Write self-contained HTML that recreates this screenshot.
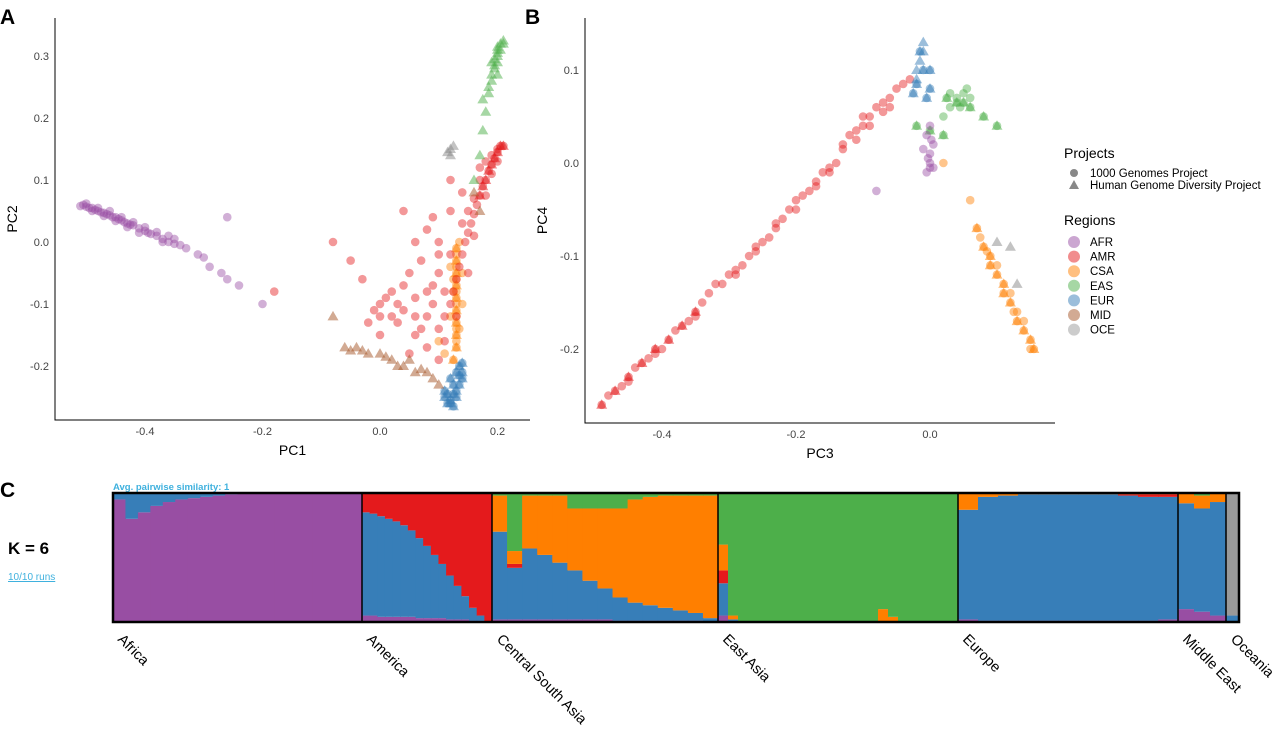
<!DOCTYPE html>
<html><head><meta charset="utf-8">
<style>
body{margin:0;background:#fff;font-family:"Liberation Sans",sans-serif;}
svg text{font-family:"Liberation Sans",sans-serif;}
</style></head>
<body>
<svg id="fig" width="1280" height="732" xmlns="http://www.w3.org/2000/svg">
<text x="0" y="24" font-size="21" font-weight="bold">A</text>
<text x="525" y="24" font-size="21" font-weight="bold">B</text>
<text x="0" y="497" font-size="21" font-weight="bold">C</text>
<g id="pa"></g>
<g id="pb"></g>
<g id="legend">
<text x="1064" y="158" font-size="14">Projects</text>
<circle cx="1074" cy="173" r="4" fill="#888"/>
<text x="1090" y="177" font-size="11.5">1000 Genomes Project</text>
<polygon points="1074,180 1079,189 1069,189" fill="#888"/>
<text x="1090" y="189" font-size="11.5">Human Genome Diversity Project</text>
<text x="1064" y="225" font-size="14">Regions</text>
</g>
<g id="pc">
<text x="113" y="490" font-size="9.5" font-weight="bold" fill="#3fb1de">Avg. pairwise similarity: 1</text>
<text x="8" y="554" font-size="17" font-weight="bold">K = 6</text>
<text x="8" y="580" font-size="10" fill="#3fb1de" text-decoration="underline">10/10 runs</text>
</g>
</svg>
<script>
const C={AFR:"#984ea3",AMR:"#e41a1c",CSA:"#ff7f00",EAS:"#4daf4a",EUR:"#377eb8",MID:"#a65628",OCE:"#999999"};
const regionNames=["AFR","AMR","CSA","EAS","EUR","MID","OCE"];
// Panel A data [PC1, PC2]
const aAFR=[[-0.51,0.058],[-0.505,0.06],[-0.50,0.057],[-0.495,0.055],[-0.49,0.055],[-0.485,0.052],[-0.48,0.05],[-0.475,0.048],[-0.47,0.047],[-0.465,0.045],[-0.46,0.043],[-0.455,0.04],[-0.45,0.04],[-0.445,0.037],[-0.44,0.035],[-0.435,0.032],[-0.43,0.03],[-0.425,0.028],[-0.42,0.027],[-0.41,0.022],[-0.40,0.018],[-0.395,0.015],[-0.39,0.013],[-0.38,0.01],[-0.37,0.005],[-0.36,0.0],[-0.35,-0.003],[-0.34,-0.005],[-0.33,-0.01],[-0.31,-0.02],[-0.30,-0.025],[-0.29,-0.04],[-0.27,-0.05],[-0.26,-0.06],[-0.24,-0.07],[-0.2,-0.1],[-0.26,0.04],[-0.36,0.01],[-0.41,0.015],[-0.50,0.062],[-0.49,0.05],[-0.48,0.055],[-0.47,0.042],[-0.46,0.05],[-0.45,0.034],[-0.44,0.04],[-0.43,0.024],[-0.42,0.032],[-0.4,0.024],[-0.38,0.016],[-0.37,0.0],[-0.35,0.005]];
const aAMR=[[0.12,-0.1],[0.125,-0.08],[0.13,-0.06],[0.135,-0.04],[0.14,-0.02],[0.145,0.0],[0.15,0.015],[0.155,0.03],[0.16,0.045],[0.165,0.06],[0.17,0.075],[0.175,0.09],[0.18,0.1],[0.185,0.115],[0.19,0.125],[0.195,0.135],[0.2,0.145],[0.205,0.155],[0.21,0.155],[0.15,0.05],[0.16,0.01],[0.17,0.1],[0.18,0.075],[0.19,0.11],[0.2,0.13],[0.05,-0.05],[0.03,-0.1],[0.0,-0.12],[-0.02,-0.13],[0.06,-0.15],[0.08,-0.17],[0.1,-0.19],[0.02,-0.08],[-0.05,-0.03],[-0.08,0.0],[0.04,0.05],[0.09,0.04],[0.1,-0.02],[0.07,-0.03],[0.11,-0.08],[0.06,-0.09],[0.08,-0.12],[0.1,-0.14],[-0.03,-0.06],[0.0,-0.15],[0.12,0.05],[0.14,0.08],[0.06,0.0],[-0.18,-0.08],[0.09,-0.07],[0.03,-0.13],[0.11,-0.16],[0.13,-0.12],[0.15,-0.05],[0.05,-0.18],[0.01,-0.09],[0.08,0.02],[0.04,-0.11],[0.07,-0.14],[0.09,-0.1],[0.11,-0.12],[0.02,-0.12],[0.06,-0.12],[0.08,-0.08],[0.1,-0.05],[0.12,-0.02],[0.14,0.03],[0.16,0.07],[0.17,0.12],[0.18,0.13],[0.19,0.14],[0.2,0.15],[0.04,-0.07],[0.1,0.0],[0.12,0.1],[0.0,-0.1],[-0.01,-0.11]];
const aCSA=[[0.125,-0.19],[0.13,-0.17],[0.13,-0.15],[0.13,-0.13],[0.13,-0.11],[0.13,-0.09],[0.13,-0.07],[0.13,-0.05],[0.13,-0.03],[0.13,-0.01],[0.135,0.0],[0.125,-0.08],[0.12,-0.12],[0.135,-0.14],[0.1,-0.16],[0.11,-0.18],[0.12,-0.04],[0.13,-0.16],[0.13,-0.14],[0.13,-0.12],[0.13,-0.1],[0.13,-0.08],[0.13,-0.06],[0.13,-0.04],[0.13,-0.02],[0.14,-0.05],[0.14,-0.1],[0.125,-0.06]];
const aEAS=[[0.16,0.1],[0.17,0.14],[0.175,0.18],[0.18,0.21],[0.185,0.24],[0.19,0.26],[0.19,0.27],[0.195,0.28],[0.2,0.29],[0.2,0.3],[0.2,0.31],[0.205,0.32],[0.21,0.325],[0.195,0.295],[0.2,0.27],[0.185,0.25],[0.175,0.23],[0.2,0.305],[0.205,0.31],[0.21,0.32],[0.195,0.285],[0.19,0.29],[0.2,0.315]];
const aEUR=[[0.11,-0.25],[0.115,-0.26],[0.12,-0.255],[0.125,-0.245],[0.13,-0.24],[0.135,-0.23],[0.13,-0.21],[0.135,-0.2],[0.14,-0.21],[0.12,-0.22],[0.11,-0.24],[0.125,-0.265],[0.14,-0.195],[0.12,-0.26],[0.13,-0.25],[0.14,-0.22],[0.125,-0.23],[0.115,-0.245],[0.135,-0.215]];
const aMID=[[-0.08,-0.12],[-0.06,-0.17],[-0.04,-0.17],[-0.02,-0.18],[0.0,-0.18],[0.02,-0.19],[0.04,-0.2],[0.05,-0.19],[0.06,-0.21],[0.08,-0.21],[0.09,-0.22],[0.1,-0.23],[-0.05,-0.175],[0.03,-0.2],[0.16,0.08],[0.17,0.05],[-0.03,-0.175],[0.01,-0.185],[0.07,-0.205]];
const aOCE=[[0.115,0.145],[0.12,0.15],[0.125,0.155],[0.12,0.14]];
// Panel B data [PC3, PC4]
const bAMR=[[-0.49,-0.26],[-0.47,-0.245],[-0.45,-0.23],[-0.43,-0.215],[-0.41,-0.2],[-0.39,-0.19],[-0.37,-0.175],[-0.35,-0.16],[-0.33,-0.14],[-0.31,-0.13],[-0.29,-0.115],[-0.27,-0.1],[-0.25,-0.085],[-0.23,-0.07],[-0.21,-0.05],[-0.19,-0.035],[-0.17,-0.02],[-0.15,-0.005],[-0.13,0.015],[-0.11,0.035],[-0.09,0.05],[-0.08,0.06],[-0.07,0.065],[-0.06,0.07],[-0.05,0.08],[-0.04,0.085],[-0.03,0.09],[-0.4,-0.2],[-0.36,-0.17],[-0.3,-0.12],[-0.24,-0.08],[-0.18,-0.03],[-0.14,0.0],[-0.1,0.04],[-0.12,0.03],[-0.2,-0.04],[-0.26,-0.09],[-0.34,-0.15],[-0.44,-0.22],[-0.48,-0.25],[-0.42,-0.21],[-0.32,-0.13],[-0.28,-0.11],[-0.22,-0.06],[-0.16,-0.01],[-0.46,-0.24],[-0.38,-0.18],[-0.26,-0.095],[-0.2,-0.05],[-0.15,-0.01],[-0.11,0.025],[-0.09,0.04],[-0.07,0.055],[-0.06,0.06],[-0.1,0.05],[-0.13,0.02],[-0.17,-0.025],[-0.23,-0.065],[-0.29,-0.12],[-0.35,-0.165],[-0.41,-0.205],[-0.45,-0.235]];
const bAFR=[[0.0,0.0],[-0.005,-0.01],[0.0,0.01],[0.005,0.02],[-0.005,0.03],[0.0,0.04],[-0.01,0.015],[0.005,-0.005],[-0.08,-0.03],[0.0,-0.005],[0.002,0.025],[-0.003,0.005]];
const bCSA=[[0.07,-0.07],[0.08,-0.09],[0.09,-0.1],[0.1,-0.12],[0.11,-0.14],[0.12,-0.15],[0.13,-0.17],[0.14,-0.18],[0.15,-0.19],[0.155,-0.2],[0.09,-0.11],[0.11,-0.13],[0.125,-0.16],[0.02,0.0],[0.06,-0.04],[0.075,-0.08],[0.1,-0.11],[0.12,-0.14],[0.14,-0.17],[0.15,-0.2],[0.13,-0.16],[0.085,-0.095]];
const bEAS=[[0.02,0.05],[0.03,0.06],[0.04,0.07],[0.05,0.075],[0.06,0.07],[0.045,0.06],[0.03,0.075],[0.055,0.08],[0.0,0.035],[-0.02,0.04],[0.1,0.04],[0.08,0.05],[0.02,0.03],[0.04,0.065],[0.05,0.065],[0.025,0.07],[0.06,0.06]];
const bEUR=[[-0.02,0.1],[-0.015,0.11],[-0.01,0.12],[-0.01,0.13],[-0.02,0.09],[0.0,0.08],[-0.025,0.075],[0.0,0.1],[-0.005,0.07],[-0.015,0.12],[-0.01,0.1],[-0.02,0.085]];
const bOCE=[[0.1,-0.085],[0.12,-0.09],[0.13,-0.13]];

const svg=document.getElementById('fig');const NS="http://www.w3.org/2000/svg";
function mk(p,t,a){const e=document.createElementNS(NS,t);for(const k in a)e.setAttribute(k,a[k]);p.appendChild(e);return e;}
function panel(g,x0,x1,y0,y1,sx,sy,xt,yt,xl,yl,xtitle,ytitle){
 const ax=mk(g,'path',{d:`M${x0} ${y0}V${y1}H${x1}`,stroke:'#000','stroke-width':1,fill:'none'});
 
 
 xt.forEach((v,i)=>{const t=mk(g,'text',{x:sx(v),y:y1+15,'font-size':11,fill:'#444','text-anchor':'middle'});t.textContent=xl[i];
  
  });
 yt.forEach((v,i)=>{const t=mk(g,'text',{x:x0-6,y:sy(v)+4,'font-size':11,fill:'#444','text-anchor':'end'});t.textContent=yl[i];
  
  });
 const xtt=mk(g,'text',{x:(x0+x1)/2,y:y1+35,'font-size':14,'text-anchor':'middle'});xtt.textContent=xtitle;
 
 
 const ytt=mk(g,'text',{x:0,y:0,'font-size':14,'text-anchor':'middle',transform:`translate(${x0-38},${(y0+y1)/2}) rotate(-90)`});ytt.textContent=ytitle;
 
 
}
function pts(g,arr,col,tri,sx,sy){arr.forEach(p=>{const x=sx(p[0]),y=sy(p[1]);let e;
 if(tri)e=mk(g,'polygon',{points:`${x},${y-5.5} ${x+5.5},${y+4} ${x-5.5},${y+4}`,fill:col,'fill-opacity':0.5});
 else e=mk(g,'circle',{cx:x,cy:y,r:4.3,fill:col,'fill-opacity':0.45});
 
 });}
const sAx=v=>380+v*587.5, sAy=v=>242-v*620;
const pa=document.getElementById('pa');
panel(pa,55,530,18,420,sAx,sAy,[-0.4,-0.2,0,0.2],[0.3,0.2,0.1,0,-0.1,-0.2],["-0.4","-0.2","0.0","0.2"],["0.3","0.2","0.1","0.0","-0.1","-0.2"],"PC1","PC2");
pts(pa,aAFR,C.AFR,false,sAx,sAy);pts(pa,aCSA,C.CSA,false,sAx,sAy);pts(pa,aCSA.slice(0,10),C.CSA,true,sAx,sAy);
pts(pa,aAMR,C.AMR,false,sAx,sAy);pts(pa,aAMR.slice(10,19),C.AMR,true,sAx,sAy);
pts(pa,aEAS,C.EAS,true,sAx,sAy);pts(pa,aEUR,C.EUR,false,sAx,sAy);pts(pa,aEUR,C.EUR,true,sAx,sAy);
pts(pa,aMID,C.MID,true,sAx,sAy);pts(pa,aOCE,"#888",true,sAx,sAy);
const sBx=v=>930+v*670, sBy=v=>163-v*930;
const pb=document.getElementById('pb');
panel(pb,585,1055,18,423,sBx,sBy,[-0.4,-0.2,0],[0.1,0,-0.1,-0.2],["-0.4","-0.2","0.0"],["0.1","0.0","-0.1","-0.2"],"PC3","PC4");
pts(pb,bAMR,C.AMR,false,sBx,sBy);pts(pb,bAMR.slice(0,8),C.AMR,true,sBx,sBy);
pts(pb,bCSA,C.CSA,false,sBx,sBy);pts(pb,bCSA.slice(0,12),C.CSA,true,sBx,sBy);
pts(pb,bEAS,C.EAS,false,sBx,sBy);pts(pb,bEAS.slice(8),C.EAS,true,sBx,sBy);
pts(pb,bEUR,C.EUR,true,sBx,sBy);pts(pb,bEUR.slice(5),C.EUR,false,sBx,sBy);
pts(pb,bAFR,C.AFR,false,sBx,sBy);pts(pb,bOCE,"#888",true,sBx,sBy);
// legend regions
const lg=document.getElementById('legend');
regionNames.forEach((r,i)=>{const y=242+i*14.6;
 const c=mk(lg,'circle',{cx:1074,cy:y,r:6,fill:C[r],'fill-opacity':0.5});
 
 
 const t=mk(lg,'text',{x:1090,y:y+4,'font-size':11.5});t.textContent=r;
 
 });
// Panel C admixture
const popNames=["Africa","America","Central South Asia","East Asia","Europe","Middle East","Oceania"];
const popWidths=[249,130,226,240,220,48,13];
const compColors=[C.AFR,C.EUR,C.AMR,C.CSA,C.EAS,"#999999"];
// columns per population: fractions [purple, blue, red, orange, green, gray] bottom-up
const popCols=[
 [[0.95,0.05,0,0,0,0],[0.8,0.2,0,0,0,0],[0.85,0.15,0,0,0,0],[0.9,0.1,0,0,0,0],[0.93,0.07,0,0,0,0],[0.95,0.05,0,0,0,0],[0.96,0.04,0,0,0,0],[0.97,0.03,0,0,0,0],[0.98,0.02,0,0,0,0],[0.99,0.01,0,0,0,0],[1,0,0,0,0,0],[1,0,0,0,0,0],[1,0,0,0,0,0],[1,0,0,0,0,0],[1,0,0,0,0,0],[1,0,0,0,0,0],[1,0,0,0,0,0],[1,0,0,0,0,0],[1,0,0,0,0,0],[1,0,0,0,0,0]],
 [[0.05,0.8,0.15,0,0,0],[0.05,0.79,0.16,0,0,0],[0.04,0.78,0.18,0,0,0],[0.04,0.76,0.2,0,0,0],[0.04,0.74,0.22,0,0,0],[0.04,0.71,0.25,0,0,0],[0.04,0.67,0.29,0,0,0],[0.03,0.62,0.35,0,0,0],[0.03,0.56,0.41,0,0,0],[0.03,0.49,0.48,0,0,0],[0.03,0.42,0.55,0,0,0],[0.02,0.34,0.64,0,0,0],[0.02,0.26,0.72,0,0,0],[0.02,0.18,0.8,0,0,0],[0.01,0.1,0.89,0,0,0],[0.01,0.04,0.95,0,0,0],[0,0,1,0,0,0]],
 [[0.02,0.68,0,0.28,0.02,0],[0.02,0.4,0.03,0.1,0.45,0],[0.02,0.55,0,0.41,0.02,0],[0.02,0.5,0,0.46,0.02,0],[0.02,0.44,0,0.52,0.02,0],[0.02,0.38,0,0.48,0.12,0],[0.02,0.3,0,0.56,0.12,0],[0.02,0.24,0,0.62,0.12,0],[0.01,0.18,0,0.69,0.12,0],[0.01,0.14,0,0.8,0.05,0],[0.01,0.12,0,0.84,0.03,0],[0.01,0.1,0,0.87,0.02,0],[0.01,0.08,0,0.89,0.02,0],[0.01,0.06,0,0.91,0.02,0],[0,0.03,0,0.95,0.02,0]],
 [[0.05,0.25,0.1,0.2,0.4,0],[0,0.02,0,0.03,0.95,0],[0,0,0,0,1,0],[0,0,0,0,1,0],[0,0,0,0,1,0],[0,0,0,0,1,0],[0,0,0,0,1,0],[0,0,0,0,1,0],[0,0,0,0,1,0],[0,0,0,0,1,0],[0,0,0,0,1,0],[0,0,0,0,1,0],[0,0,0,0,1,0],[0,0,0,0,1,0],[0,0,0,0,1,0],[0,0,0,0,1,0],[0,0,0,0.1,0.9,0],[0,0,0,0.04,0.96,0],[0,0,0,0,1,0],[0,0,0,0,1,0],[0,0,0,0,1,0],[0,0,0,0,1,0],[0,0,0,0,1,0],[0,0,0,0,1,0]],
 [[0.02,0.85,0,0.13,0,0],[0.01,0.96,0,0.03,0,0],[0.01,0.97,0,0.02,0,0],[0.01,0.98,0,0.01,0,0],[0.01,0.98,0,0.01,0,0],[0.01,0.98,0,0.01,0,0],[0.01,0.98,0,0.01,0,0],[0.01,0.98,0,0.01,0,0],[0.01,0.97,0.01,0.01,0,0],[0.01,0.96,0.02,0.01,0,0],[0.02,0.95,0.02,0.01,0,0]],
 [[0.1,0.82,0,0.08,0,0],[0.08,0.8,0,0.1,0.02,0],[0.05,0.88,0,0.07,0,0]],
 [[0,0.05,0,0,0,0.95]]
];
const pc=document.getElementById('pc');
const Y0=493,Y1=622,H=Y1-Y0;let x=113;
popNames.forEach((name,pi)=>{const w=popWidths[pi];const cols=popCols[pi];const cw=w/cols.length;
 cols.forEach((fr,ci)=>{let y=Y1;fr.forEach((f,k)=>{if(f<=0)return;const h=f*H;
  const r=mk(pc,'rect',{x:x+ci*cw,y:y-h,width:cw+0.6,height:h,fill:compColors[k]});
  
  
  y-=h;});});
 if(pi>0){const l=mk(pc,'line',{x1:x,x2:x,y1:Y0,y2:Y1,stroke:'#000','stroke-width':1.5});
  
  }
 const t=mk(pc,'text',{x:0,y:0,'font-size':14.5,transform:`translate(${x+4},${640}) rotate(45)`});t.textContent=name;
 
 
 x+=w;});
const box=mk(pc,'rect',{x:113,y:Y0,width:x-113,height:H,fill:'none',stroke:'#000','stroke-width':2.5});


</script>
</body></html>
